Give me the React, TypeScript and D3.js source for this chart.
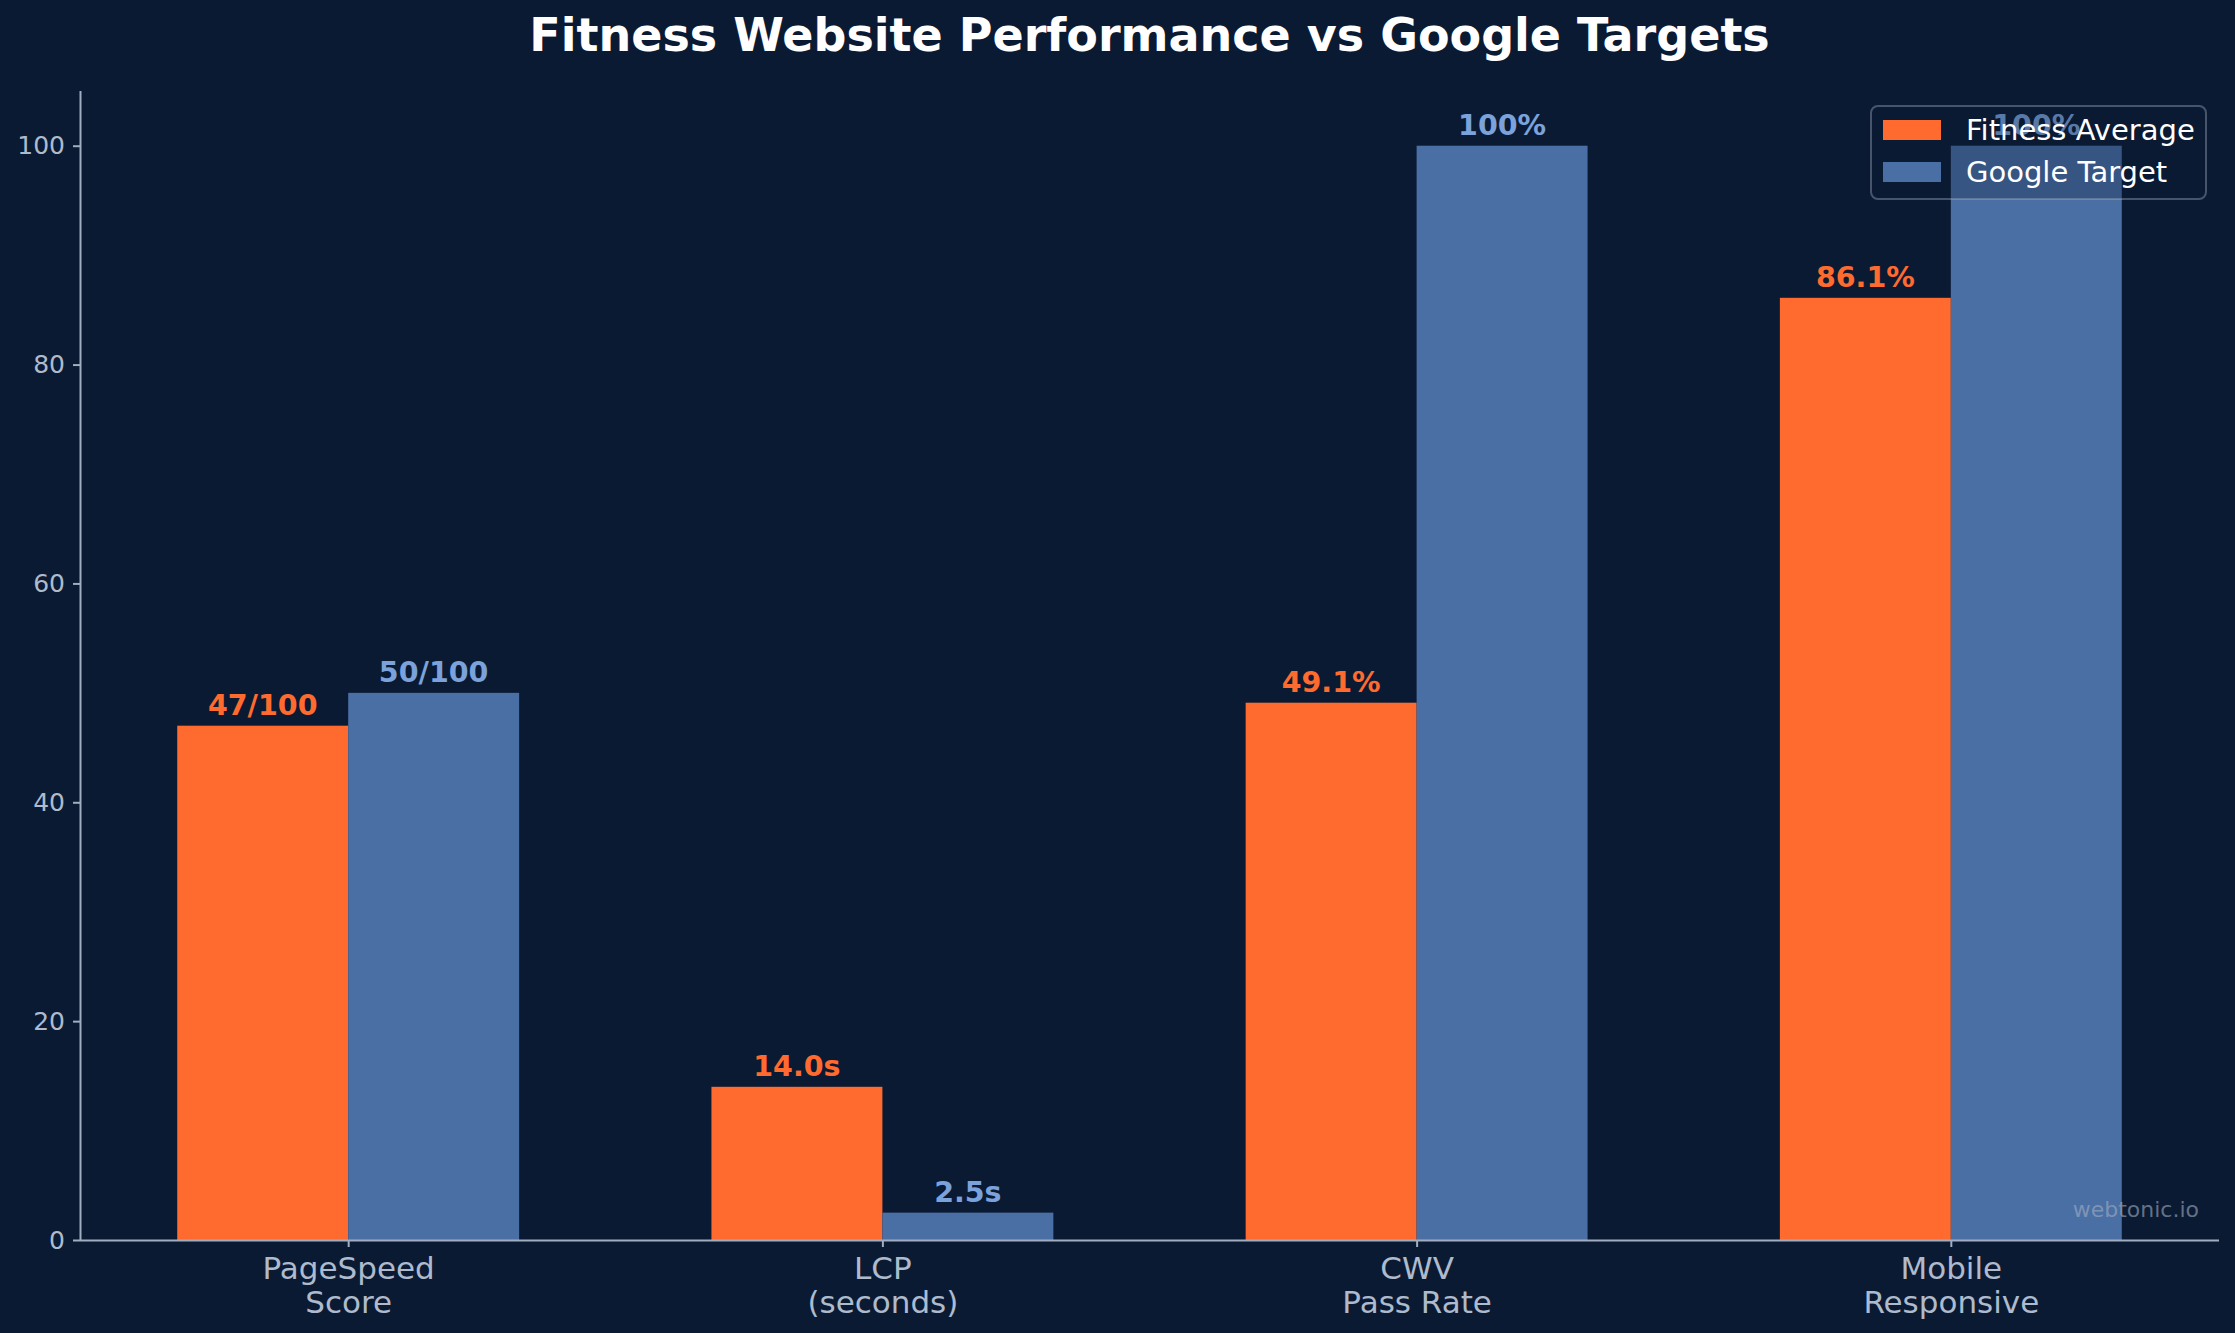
import { useEffect, useRef } from "react";
import * as d3 from "d3";

const width = 2235;
const height = 1333;
const margin = { top: 91, right: 16, bottom: 93, left: 80 };

const categories = [
  ["PageSpeed", "Score"],
  ["LCP", "(seconds)"],
  ["CWV", "Pass Rate"],
  ["Mobile", "Responsive"],
];
const fitnessValues = [47, 14.0, 49.1, 86.1];
const googleValues = [50, 2.5, 100, 100];
const fitnessLabels = ["47/100", "14.0s", "49.1%", "86.1%"];
const googleLabels = ["50/100", "2.5s", "100%", "100%"];
const yTicks = [0, 20, 40, 60, 80, 100];
const seriesNames = ["Fitness Average", "Google Target"];

const bg = "#0b1a33";
const orange = "#ff6b2f";
const blue = "#4a6fa5";
const blueText = "#7ba2da";
const axisColor = "#a0aec0";
const tickText = "#aebbcd";
const font = "'DejaVu Sans', sans-serif";

const barWidth = 0.32;

export default function App() {
  const svgRef = useRef<SVGSVGElement | null>(null);

  useEffect(() => {
    document.body.style.margin = "0";
    document.body.style.background = bg;
    if (!svgRef.current) return;
    const svg = d3.select(svgRef.current);
    svg.selectAll("*").remove();

    // matplotlib style margins: bars from -0.32..3.32 plus 5%
    const x = d3
      .scaleLinear()
      .domain([-0.502, 3.502])
      .range([margin.left, width - margin.right]);
    const y = d3
      .scaleLinear()
      .domain([0, 105])
      .range([height - margin.bottom, margin.top]);

    svg.append("rect").attr("width", width).attr("height", height).attr("fill", bg);

    // title
    svg
      .append("text")
      .attr("x", (x(-0.502) + x(3.502)) / 2)
      .attr("y", 51)
      .attr("text-anchor", "middle")
      .attr("fill", "#ffffff")
      .style("font-family", font)
      .style("font-size", "46px")
      .style("font-weight", "700")
      .text("Fitness Website Performance vs Google Targets");

    // bars
    const bars = svg.append("g");
    bars
      .selectAll("rect.fit")
      .data(fitnessValues)
      .join("rect")
      .attr("class", "fit")
      .attr("x", (_, i) => x(i - barWidth))
      .attr("width", (_, i) => x(i) - x(i - barWidth))
      .attr("y", (d) => y(d))
      .attr("height", (d) => y(0) - y(d))
      .attr("fill", orange);
    bars
      .selectAll("rect.goo")
      .data(googleValues)
      .join("rect")
      .attr("class", "goo")
      .attr("x", (_, i) => x(i))
      .attr("width", (_, i) => x(i + barWidth) - x(i))
      .attr("y", (d) => y(d))
      .attr("height", (d) => y(0) - y(d))
      .attr("fill", blue);

    // value labels
    const labels = svg.append("g").style("font-family", font).style("font-size", "28.5px").style("font-weight", "700");
    labels
      .selectAll("text.fit")
      .data(fitnessValues)
      .join("text")
      .attr("class", "fit")
      .attr("x", (_, i) => x(i - barWidth / 2))
      .attr("y", (d) => y(d) - 11)
      .attr("text-anchor", "middle")
      .attr("fill", orange)
      .text((_, i) => fitnessLabels[i]);
    labels
      .selectAll("text.goo")
      .data(googleValues)
      .join("text")
      .attr("class", "goo")
      .attr("x", (_, i) => x(i + barWidth / 2))
      .attr("y", (d) => y(d) - 11)
      .attr("text-anchor", "middle")
      .attr("fill", blueText)
      .text((_, i) => googleLabels[i]);

    // y axis
    const yAxis = svg
      .append("g")
      .attr("transform", `translate(${margin.left},0)`)
      .call(d3.axisLeft(y).tickValues(yTicks).tickSize(7).tickPadding(8).tickFormat(d3.format("d")));
    yAxis.select(".domain").attr("stroke", axisColor).attr("stroke-width", 2).attr("d", `M0.5,${y(105)}V${y(0)}`);
    yAxis.selectAll(".tick line").attr("stroke", axisColor).attr("stroke-width", 2);
    yAxis
      .selectAll(".tick text")
      .attr("fill", tickText)
      .style("font-family", font)
      .style("font-size", "25px");

    // x axis
    const xAxis = svg
      .append("g")
      .attr("transform", `translate(0,${y(0)})`)
      .call(d3.axisBottom(x).tickValues([0, 1, 2, 3]).tickSize(7).tickFormat(() => ""));
    xAxis.select(".domain").attr("stroke", axisColor).attr("stroke-width", 2).attr("d", `M${x(-0.502)},0.5H${x(3.502)}`);
    xAxis.selectAll(".tick line").attr("stroke", axisColor).attr("stroke-width", 2);
    xAxis
      .selectAll<SVGGElement, number>(".tick")
      .append("text")
      .attr("text-anchor", "middle")
      .attr("fill", tickText)
      .style("font-family", font)
      .style("font-size", "31px")
      .selectAll("tspan")
      .data((d) => categories[d].map((line, k) => ({ line, k })))
      .join("tspan")
      .attr("x", 0)
      .attr("y", (d) => 39 + d.k * 34)
      .text((d) => d.line);

    // legend
    const legend = svg.append("g").attr("transform", "translate(1871,106)");
    legend
      .append("rect")
      .attr("width", 335)
      .attr("height", 93)
      .attr("rx", 7)
      .attr("fill", bg)
      .attr("fill-opacity", 0.3)
      .attr("stroke", axisColor)
      .attr("stroke-opacity", 0.4)
      .attr("stroke-width", 2);
    const items = legend
      .selectAll("g.item")
      .data(seriesNames)
      .join("g")
      .attr("class", "item")
      .attr("transform", (_, i) => `translate(12,${14 + i * 42})`);
    items
      .append("rect")
      .attr("width", 58)
      .attr("height", 20)
      .attr("fill", (_, i) => (i === 0 ? orange : blue));
    items
      .append("text")
      .attr("x", 83)
      .attr("y", 20)
      .attr("fill", "#ffffff")
      .style("font-family", font)
      .style("font-size", "29px")
      .text((d) => d);

    // watermark
    svg
      .append("text")
      .attr("x", 2199)
      .attr("y", 1217)
      .attr("text-anchor", "end")
      .attr("fill", axisColor)
      .attr("fill-opacity", 0.6)
      .style("font-family", font)
      .style("font-size", "22px")
      .text("webtonic.io");
  }, []);

  return (
    <svg
      ref={svgRef}
      width={width}
      height={height}
      viewBox={`0 0 ${width} ${height}`}
      style={{ display: "block" }}
    />
  );
}
